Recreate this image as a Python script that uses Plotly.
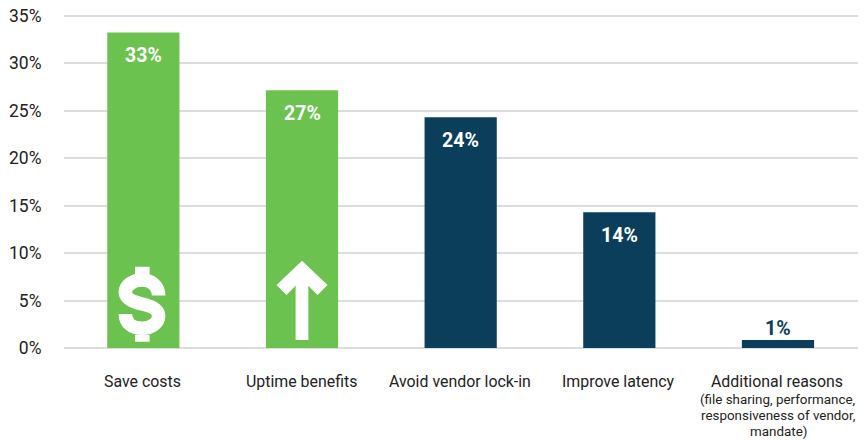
import plotly.graph_objects as go

categories = ["Save costs", "Uptime benefits", "Avoid vendor lock-in", "Improve latency", "Additional reasons"]
sublabels = [[], [], [], [], ["(file sharing, performance,", "responsiveness of vendor,", "mandate)"]]
values = [33.25, 27.15, 24.3, 14.3, 0.85]
labels = ["33%", "27%", "24%", "14%", "1%"]
colors = ["#6CC24E", "#6CC24E", "#0A3E5A", "#0A3E5A", "#0A3E5A"]
y_ticks = [0, 5, 10, 15, 20, 25, 30, 35]
y_ticktext = ["0%", "5%", "10%", "15%", "20%", "25%", "30%", "35%"]

FONT = "Roboto"
fig = go.Figure(go.Bar(x=categories, y=values, marker=dict(color=colors, line_width=0),
                       hoverinfo="skip", width=0.455))

annotations = []
for c, v, t in zip(categories, values, labels):
    small = v < 3
    annotations.append(dict(x=c, y=v, text=f"<b>{t}</b>", showarrow=False, xref="x", yref="y",
                            yanchor="bottom" if small else "top",
                            yshift=-2 if small else -10,
                            font=dict(family=FONT, size=19.5, color="#0A3E5A" if small else "white")))

for c, subs in zip(categories, sublabels):
    annotations.append(dict(x=c, y=0, xref="x", yref="y", yanchor="top", yshift=-22, xshift=-0.7, showarrow=False,
                            text=c, font=dict(family=FONT, size=15.9, color="#222222")))
    for i, s in enumerate(subs):
        annotations.append(dict(x=c, y=0, xref="x", yref="y", yanchor="top", yshift=-42 - 16 * i, showarrow=False,
                                text=s, font=dict(family=FONT, size=13.4, color="#222222")))

arrow = "M 0 87.3 L 25.5 63 L 15.5 53 L 6.4 62.3 L 6.4 8 L -6.4 8 L -6.4 62.3 L -15.5 53 L -25.5 63 Z"
dollar_s = ("M 15.3 52.5 C 15.3 62 8 68 -1.3 68 C -11 68 -18 62 -18 56 C -18 49 -10 46 -1.3 44 "
            "C 8 42 15.3 39 15.3 32 C 15.3 25 8 19.7 -1.3 19.7 C -11 19.7 -18 25 -18 34")
dollar_tabs = "M -8.3 81.3 L 6.3 81.3 L 6.3 71 L -8.3 71 Z M -8.3 13 L 6.3 13 L 6.3 6.3 L -8.3 6.3 Z"


def icon(cat, path, **style):
    return dict(type="path", xref="x", yref="y", xsizemode="pixel", ysizemode="pixel",
                xanchor=cat, yanchor=0, path=path, layer="above", **style)


shapes = [
    icon(categories[1], arrow, fillcolor="white", line_width=0),
    icon(categories[0], dollar_s, fillcolor="rgba(0,0,0,0)", line=dict(color="white", width=13.5)),
    icon(categories[0], dollar_tabs, fillcolor="white", line_width=0),
]

fig.update_layout(
    width=865, height=440, autosize=False,
    margin=dict(l=64, r=7, t=11.7, b=92, pad=0),
    paper_bgcolor="white", plot_bgcolor="white",
    showlegend=False, annotations=annotations, shapes=shapes,
    font=dict(family=FONT, color="#222222"),
    xaxis=dict(type="category", showticklabels=False, showgrid=False, zeroline=False, showline=False, ticks=""),
    yaxis=dict(range=[0, 35.4], tickmode="array", tickvals=y_ticks, ticktext=y_ticktext, automargin=False,
               tickfont=dict(family=FONT, size=17.5, color="#222222"),
               showgrid=True, gridcolor="#DDDDDD", gridwidth=2, zeroline=True, zerolinecolor="#DDDDDD",
               zerolinewidth=2, showline=False, ticks="outside", ticklen=18, tickcolor="rgba(0,0,0,0)"),
)
fig.write_html("out.html", config={"displayModeBar": False},
               post_script="document.body.style.margin='0';document.body.style.overflow='hidden';")
